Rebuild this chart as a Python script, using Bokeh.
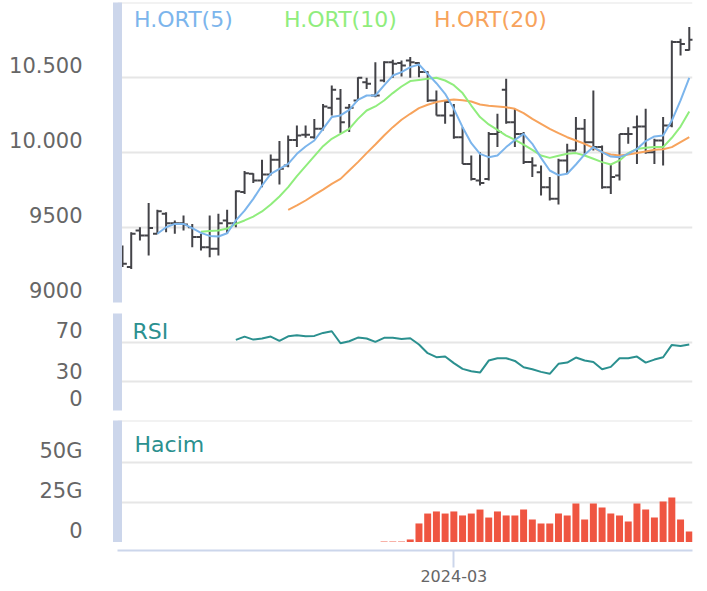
from bokeh.plotting import figure
from bokeh.layouts import column
from bokeh.models import Range1d, FixedTicker, Label
from bokeh.embed import file_html
from bokeh.resources import INLINE

# ---------------- data ----------------
opens = [9302, 9236, 9480, 9447, 9458, 9591, 9529, 9529, 9502, 9436, 9369, 9358, 9547, 9529, 9736, 9858, 9813,
         9853, 9951, 9913, 10084, 10118, 10102, 10158, 10298, 10358, 10298, 10347, 10469, 10380, 10480, 10602,
         10596, 10613, 10596, 10536, 10347, 10247, 10247, 10102, 9924, 9813, 9824, 10124, 10418, 10202, 10124,
         9936, 9869, 9769, 9691, 9947, 10013, 10158, 10069, 10036, 9769, 9847, 10124, 10169, 10173, 10002,
         10080, 10180, 10736, 10684]
highs = [9380, 9469, 9502, 9664, 9618, 9602, 9547, 9580, 9524, 9458, 9580, 9591, 9618, 9747, 9876, 9862, 9951,
         9987, 10076, 10113, 10180, 10180, 10224, 10324, 10447, 10424, 10324, 10502, 10498, 10602, 10609, 10618,
         10613, 10636, 10602, 10542, 10413, 10347, 10324, 10169, 9980, 10002, 10136, 10258, 10491, 10291, 10136,
         9969, 9913, 9836, 9958, 10058, 10236, 10224, 10413, 10047, 9924, 10124, 10169, 10247, 10291, 10091,
         10236, 10747, 10758, 10836]
lows = [9236, 9224, 9413, 9313, 9458, 9469, 9458, 9480, 9369, 9347, 9302, 9313, 9458, 9502, 9724, 9796, 9769,
        9847, 9787, 9902, 10036, 10098, 10091, 10147, 10247, 10129, 10136, 10347, 10424, 10369, 10469, 10498,
        10507, 10498, 10502, 10336, 10247, 10191, 10091, 9924, 9813, 9780, 9813, 10036, 10191, 10036, 9924,
        9836, 9713, 9680, 9653, 9858, 10013, 9991, 10013, 9758, 9724, 9813, 10058, 9924, 9991, 9924, 9913,
        10169, 10647, 10680]
closes = [9258, 9458, 9447, 9496, 9609, 9529, 9529, 9520, 9436, 9369, 9358, 9529, 9529, 9742, 9862, 9813, 9853,
          9951, 9891, 10084, 10113, 10118, 10158, 10307, 10418, 10202, 10298, 10498, 10458, 10380, 10602, 10591,
          10580, 10602, 10536, 10347, 10247, 10336, 10102, 9924, 9824, 9796, 10124, 10136, 10202, 10124, 9936,
          9913, 9769, 9691, 9947, 10013, 10158, 10069, 10036, 9769, 9836, 10124, 10124, 10173, 10002, 10080,
          10180, 10736, 10724, 10751]

ma5_start = 4
ma5 = [9458, 9502, 9524, 9524, 9496, 9464, 9444, 9440, 9462, 9547, 9613, 9691, 9780, 9858, 9891, 9924, 9991,
       10040, 10080, 10158, 10236, 10247, 10284, 10351, 10380, 10380, 10447, 10513, 10536, 10569, 10587, 10524,
       10462, 10391, 10291, 10169, 10062, 9991, 9969, 9980, 10036, 10084, 10124, 10058, 9964, 9880, 9849, 9858,
       9920, 9987, 10036, 10002, 9973, 9969, 9991, 10024, 10076, 10107, 10113, 10213, 10347, 10498]
ma10_start = 9
ma10 = [9471, 9476, 9480, 9493, 9524, 9547, 9573, 9607, 9653, 9707, 9769, 9842, 9909, 9976, 10042, 10091, 10124,
        10158, 10224, 10280, 10307, 10347, 10396, 10440, 10476, 10484, 10491, 10498, 10480, 10449, 10396, 10313,
        10236, 10187, 10151, 10113, 10084, 10053, 10018, 9980, 9964, 9978, 9991, 9996, 9980, 9958, 9936, 9920,
        9947, 9996, 10024, 10031, 10036, 10036, 10098, 10173, 10273]
ma20_start = 19
ma20 = [9618, 9647, 9680, 9718, 9753, 9791, 9824, 9880, 9936, 9996, 10053, 10113, 10169, 10218, 10258, 10296,
        10318, 10336, 10347, 10353, 10349, 10340, 10320, 10311, 10307, 10302, 10291, 10262, 10224, 10191, 10158,
        10129, 10102, 10080, 10058, 10031, 10002, 9987, 9980, 9987, 9996, 10007, 10018, 10022, 10036, 10069, 10102]

rsi_start = 13
rsi = [72.8, 76.2, 73.1, 74.2, 76.2, 71.7, 76.5, 77.6, 76.5, 76.9, 80.0, 81.7, 69.3, 71.4, 75.2, 74.2, 70.7,
       74.9, 74.9, 73.8, 74.5, 68.0, 59.1, 55.0, 55.6, 48.8, 42.9, 40.5, 39.1, 51.5, 53.9, 53.9, 51.1, 44.6,
       42.6, 39.8, 37.8, 48.1, 49.4, 54.6, 51.5, 50.1, 42.6, 45.0, 53.9, 53.9, 55.6, 49.4, 52.5, 54.9, 67.6,
       66.6, 68.0]

vol_start = 30
vol_g = [0.6, 0.6, 0.6, 1.9, 11.9, 18.1, 19.4, 18.1, 19.4, 16.9, 18.1, 20.6, 15.6, 19.4, 16.9, 16.9, 20.6,
         14.4, 11.9, 11.9, 18.1, 16.9, 24.4, 14.4, 24.4, 21.9, 18.1, 16.9, 13.1, 24.4, 20.6, 15.6, 25.6, 28.1,
         14.4, 6.9]

month_tick_index = 38
month_tick_label = "2024-03"

price_grid = [9000, 9500, 10000, 10500, 10999]
price_labels = {9085: "9000", 9585: "9500", 10085: "10.000", 10585: "10.500"}
rsi_grid = [0, 30, 70, 100]
rsi_labels = {12.4: "0", 41.2: "30", 82.5: "70"}
vol_grid = [0, 25, 50, 76.1]
vol_labels = {7.5: "0", 32.5: "25G", 56.9: "50G"}

# ---------------- styling ----------------
FONT = "DejaVu Sans"
GRID = "#e6e6e6"
AXIS = "#ccd6eb"
LBL = "#666666"
BAR = "#434348"
C5, C10, C20 = "#7cb5ec", "#90ed7d", "#f7a35c"
TEAL = "#2b908f"
VOLC = "#ef5541"

N = len(closes)
xs = list(range(N))
xr = Range1d(-0.573, 65.37)

W = 697
LEFT = 117


def make_fig(height, yr, top, bottom, grid_ticks, label_map):
    p = figure(width=W, height=height, x_range=xr, y_range=yr, output_backend="svg",
               toolbar_location=None, tools="", min_border_left=LEFT, min_border_right=5,
               min_border_top=top, min_border_bottom=bottom, x_axis_location=None)
    p.outline_line_color = None
    p.xgrid.visible = False
    p.ygrid.ticker = FixedTicker(ticks=grid_ticks)
    p.ygrid.grid_line_color = GRID
    p.ygrid.grid_line_width = 2
    ax = p.yaxis[0]
    ax.ticker = FixedTicker(ticks=list(label_map.keys()))
    ax.major_label_overrides = label_map
    ax.axis_line_width = 9
    ax.axis_line_color = AXIS
    ax.major_tick_line_color = None
    ax.minor_tick_line_color = None
    ax.major_label_standoff = 29
    ax.major_label_text_font = FONT
    ax.major_label_text_font_size = "21px"
    ax.major_label_text_color = LBL
    return p


# main price panel
p1 = make_fig(307, Range1d(9000, 11000), 2, 5, price_grid, price_labels)
p1.segment(x0=xs, y0=lows, x1=xs, y1=highs, line_color=BAR, line_width=2)
p1.segment(x0=[x - 0.5 for x in xs], y0=opens, x1=xs, y1=opens, line_color=BAR, line_width=2)
p1.segment(x0=xs, y0=closes, x1=[x + 0.5 for x in xs], y1=closes, line_color=BAR, line_width=2)
p1.line(list(range(ma20_start, ma20_start + len(ma20))), ma20, line_color=C20, line_width=2)
p1.line(list(range(ma10_start, ma10_start + len(ma10))), ma10, line_color=C10, line_width=2)
p1.line(list(range(ma5_start, ma5_start + len(ma5))), ma5, line_color=C5, line_width=2)
for txt, xpos, col in [("H.ORT(5)", 1.32, C5), ("H.ORT(10)", 18.52, C10), ("H.ORT(20)", 35.72, C20)]:
    p1.add_layout(Label(x=xpos, y=10890, text=txt, text_color=col, text_font=FONT,
                        text_font_size="22px", text_baseline="alphabetic", text_align="left"))

# RSI panel
p2 = make_fig(108, Range1d(0, 100), 6, 5, rsi_grid, rsi_labels)
p2.line(list(range(rsi_start, rsi_start + len(rsi))), rsi, line_color=TEAL, line_width=2)
p2.add_layout(Label(x=1.15, y=81.1, text="RSI", text_color=TEAL, text_font=FONT,
                    text_font_size="22px", text_baseline="alphabetic", text_align="left"))

# volume panel
p3 = make_fig(127, Range1d(0, 76.25), 5, 0, vol_grid, vol_labels)
p3.vbar(x=list(range(vol_start, vol_start + len(vol_g))), top=vol_g, bottom=0, width=0.8,
        fill_color=VOLC, line_color=None)
p3.add_layout(Label(x=1.38, y=61.4, text="Hacim", text_color=TEAL, text_font=FONT,
                    text_font_size="22px", text_baseline="alphabetic", text_align="left"))

# date axis strip
p4 = figure(width=W, height=49, x_range=xr, y_range=Range1d(0, 8), output_backend="svg",
            toolbar_location=None, tools="", min_border_left=LEFT, min_border_right=5,
            min_border_top=0, min_border_bottom=41, y_axis_location=None)
p4.outline_line_color = None
p4.xgrid.visible = False
p4.ygrid.visible = False
xa = p4.xaxis[0]
xa.ticker = FixedTicker(ticks=[month_tick_index])
xa.major_label_overrides = {month_tick_index: month_tick_label}
xa.major_label_text_font = FONT
xa.major_label_text_font_size = "16px"
xa.major_label_text_color = LBL
xa.major_label_standoff = 2
xa.axis_line_color = AXIS
xa.axis_line_width = 2
xa.major_tick_line_color = AXIS
xa.major_tick_line_width = 2
xa.major_tick_out = 17
xa.major_tick_in = 0
xa.minor_tick_line_color = None

layout = column(p1, p2, p3, p4, spacing=0)
open("out.html", "w").write(file_html(layout, INLINE))
